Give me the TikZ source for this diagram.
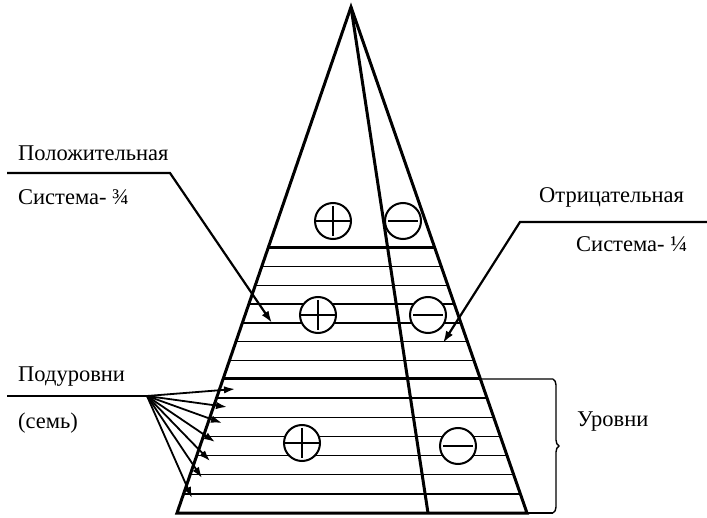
\documentclass[tikz,border=0pt]{standalone}
\usepackage{fontspec}
\setmainfont{Liberation Serif}
\usetikzlibrary{calc,arrows.meta,decorations.pathreplacing}

\tikzset{
  rim/.style={line width=3pt},
  subl/.style={line width=1.4pt},
  lead/.style={line width=2.2pt,-{Latex[length=12pt,width=8pt]}},
  fan/.style={line width=1.8pt,-{Latex[length=11pt,width=7.5pt]}},
  sgn/.style={circle,draw,fill=white,line width=2pt,minimum size=36pt,inner sep=0pt},
  plus/.style={sgn,path picture={
    \draw[line width=2.2pt,shorten >=3pt,shorten <=3pt]
      (path picture bounding box.west) -- (path picture bounding box.east)
      (path picture bounding box.north) -- (path picture bounding box.south);}},
  minus/.style={sgn,path picture={
    \draw[line width=2.2pt,shorten >=3pt,shorten <=3pt]
      (path picture bounding box.west) -- (path picture bounding box.east);}},
  lbl/.style={anchor=west,inner sep=0pt,font=\fontsize{22.5}{27}\selectfont}
}

\begin{document}
\begin{tikzpicture}[x=1pt,y=-1pt]
\useasboundingbox (0,0) rectangle (707,518);
\def\ya{248}
\def\yb{379}
\def\yc{513}
\def\h{506}

\coordinate (A) at (351,7);
\coordinate (BL) at (177,\yc);
\coordinate (BR) at (527,\yc);
\coordinate (BM) at (428,\yc);

% sublevels (seven in each level)
\foreach \k in {1,...,6}{
  \pgfmathsetmacro\u{(\ya+\k*(\yb-\ya)/7-7)/\h}
  \draw[subl] ($(A)!\u!(BL)$) -- ($(A)!\u!(BR)$);
  \pgfmathsetmacro\v{(\yb+\k*(\yc-\yb)/7-7)/\h}
  \draw[subl] ($(A)!\v!(BL)$) -- ($(A)!\v!(BR)$);
}

% levels
\draw[rim] ($(A)!{(\ya-7)/\h}!(BL)$) -- ($(A)!{(\ya-7)/\h}!(BR)$);
\draw[rim] ($(A)!{(\yb-7)/\h}!(BL)$) -- ($(A)!{(\yb-7)/\h}!(BR)$) coordinate (R2);
\draw[rim] (A) -- (BL) -- (BR) -- cycle;
\draw[rim] (A) -- (BM);

% bracket
\coordinate (T2) at (553,\yb);
\coordinate (T3) at (553,\yc);
\draw[subl] (R2) -- (T2);
\draw[subl] (BR) -- (T3);
\draw[subl,decorate,decoration={brace,amplitude=6pt}] (T2) -- (T3);
\node[lbl] (lev) at (577,422) {Уровни};

% signs
\node[plus] (p1) at (333,221) {};
\node[minus] (m1) at (403,221) {};
\node[plus] (p2) at (318,315) {};
\node[minus] (m2) at (428,315) {};
\node[plus] (p3) at (302,443) {};
\node[minus] (m3) at (458,446) {};

% positive system
\node[lbl] (pos) at (18,153) {Положительная};
\node[lbl] (pos2) at (18,197) {Система- ¾};
\coordinate (pa) at (7,173);
\coordinate (pb) at (170,173);
\coordinate (pt) at (272,323);
\draw[lead] (pa) -- (pb) -- (pt);

% negative system
\node[lbl] (neg) at (539,197) {Отрицательная};
\node[lbl] (neg2) at (576,244) {Система- ¼};
\coordinate (na) at (707,222);
\coordinate (nb) at (520,222);
\coordinate (nt) at (443,343);
\draw[lead] (na) -- (nb) -- (nt);

% sublevels
\node[lbl] (sub) at (18,377) {Подуровни};
\node[lbl] (sub2) at (18,423) {(семь)};
\coordinate (sa) at (7,396);
\coordinate (sf) at (147,396);
\draw[line width=2.2pt] (sa) -- (sf);
\foreach \x/\y [count=\i] in {235/389,227/407,222/423,215/442,210/461,202/478,192/498}{
  \coordinate (st\i) at (\x,\y);
  \draw[fan] (sf) -- (st\i);
}
\end{tikzpicture}
\end{document}
